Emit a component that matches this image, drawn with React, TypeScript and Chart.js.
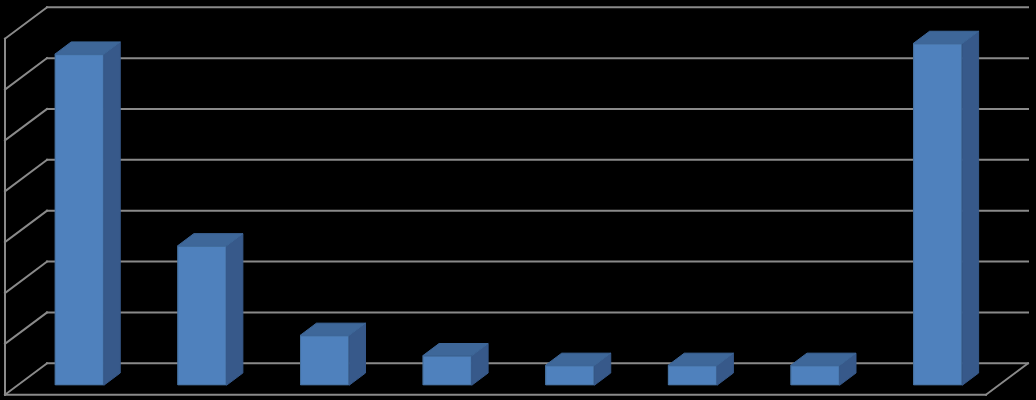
import React, { useEffect, useRef } from 'react';
import { Chart, registerables } from 'chart.js';

Chart.register(...registerables);

const categories = ['1', '2', '3', '4', '5', '6', '7', '8'];
const values = [65.1, 27.4, 9.8, 5.8, 3.9, 3.9, 3.9, 67.2];
const yTicks = [0, 10, 20, 30, 40, 50, 60, 70];

// depth offsets, relative to the bars' front plane
const BACK_DX = 29;
const BACK_DY = -22;
const FLOOR_DX = -13;
const FLOOR_DY = 9.4;
const BAR_DX = 16.4;
const BAR_DY = -12.3;

const GRID = '#8a8a8a';
const FRONT = '#4f81bd';
const TOP = '#3e6799';
const SIDE = '#37598a';

const wallsPlugin = {
  id: 'walls',
  beforeDatasetsDraw(chart: any) {
    const { ctx, chartArea, scales } = chart;
    const y = scales.y;
    const { left, right } = chartArea;
    const y0 = y.getPixelForValue(0);
    const yTop = y.getPixelForValue(yTicks[yTicks.length - 1]);
    ctx.save();
    ctx.strokeStyle = GRID;
    ctx.lineWidth = 2;
    ctx.lineCap = 'square';
    const line = (x1: number, y1: number, x2: number, y2: number) => {
      ctx.beginPath();
      ctx.moveTo(x1, y1);
      ctx.lineTo(x2, y2);
      ctx.stroke();
    };
    yTicks.forEach((v) => {
      const py = y.getPixelForValue(v);
      line(left + BACK_DX, py + BACK_DY, right + BACK_DX, py + BACK_DY);
      line(left + FLOOR_DX, py + FLOOR_DY, left + BACK_DX, py + BACK_DY);
    });
    // left front edge
    line(left + FLOOR_DX, y0 + FLOOR_DY, left + FLOOR_DX, yTop + FLOOR_DY);
    // floor front and right edges
    line(left + FLOOR_DX, y0 + FLOOR_DY, right + FLOOR_DX, y0 + FLOOR_DY);
    line(right + FLOOR_DX, y0 + FLOOR_DY, right + BACK_DX, y0 + BACK_DY);
    ctx.restore();
  },
  afterDatasetsDraw(chart: any) {
    const { ctx } = chart;
    const meta = chart.getDatasetMeta(0);
    ctx.save();
    ctx.lineWidth = 1;
    ctx.lineJoin = 'round';
    meta.data.forEach((bar: any) => {
      const { x, y, base, width } = bar.getProps(['x', 'y', 'base', 'width'], true);
      const l = x - width / 2;
      const r = x + width / 2;
      // front face outline
      ctx.strokeStyle = '#46719f';
      ctx.strokeRect(l + 0.5, y + 0.5, width - 1, base - y - 1);
      // side face
      ctx.beginPath();
      ctx.moveTo(r, y);
      ctx.lineTo(r + BAR_DX, y + BAR_DY);
      ctx.lineTo(r + BAR_DX, base + BAR_DY);
      ctx.lineTo(r, base);
      ctx.closePath();
      ctx.fillStyle = SIDE;
      ctx.strokeStyle = SIDE;
      ctx.fill();
      ctx.stroke();
      // top face
      ctx.beginPath();
      ctx.moveTo(l, y);
      ctx.lineTo(l + BAR_DX, y + BAR_DY);
      ctx.lineTo(r + BAR_DX, y + BAR_DY);
      ctx.lineTo(r, y);
      ctx.closePath();
      ctx.fillStyle = TOP;
      ctx.strokeStyle = TOP;
      ctx.fill();
      ctx.stroke();
    });
    ctx.restore();
  },
};

const App = () => {
  const chartRef = useRef<HTMLCanvasElement | null>(null);
  const chartInstance = useRef<Chart | null>(null);

  useEffect(() => {
    document.body.style.margin = '0';
    if (chartRef.current) {
      if (chartInstance.current) {
        chartInstance.current.destroy();
      }
      chartInstance.current = new Chart(chartRef.current, {
        type: 'bar',
        data: {
          labels: categories,
          datasets: [
            {
              data: values,
              backgroundColor: FRONT,
              borderWidth: 0,
              barPercentage: 0.4,
              categoryPercentage: 1,
            },
          ],
        },
        options: {
          responsive: true,
          maintainAspectRatio: false,
          animation: false,
          layout: {
            padding: { left: 18, right: 37, top: 29.3, bottom: 14.7 },
          },
          plugins: {
            legend: { display: false },
            tooltip: { enabled: false },
          },
          scales: {
            x: { display: false },
            y: {
              display: false,
              min: 0,
              max: yTicks[yTicks.length - 1],
            },
          },
        },
        plugins: [wallsPlugin],
      });
    }

    return () => {
      if (chartInstance.current) {
        chartInstance.current.destroy();
        chartInstance.current = null;
      }
    };
  }, []);

  return (
    <div style={{ width: 1036, height: 400, background: '#000' }}>
      <canvas ref={chartRef} />
    </div>
  );
};

export default App;
